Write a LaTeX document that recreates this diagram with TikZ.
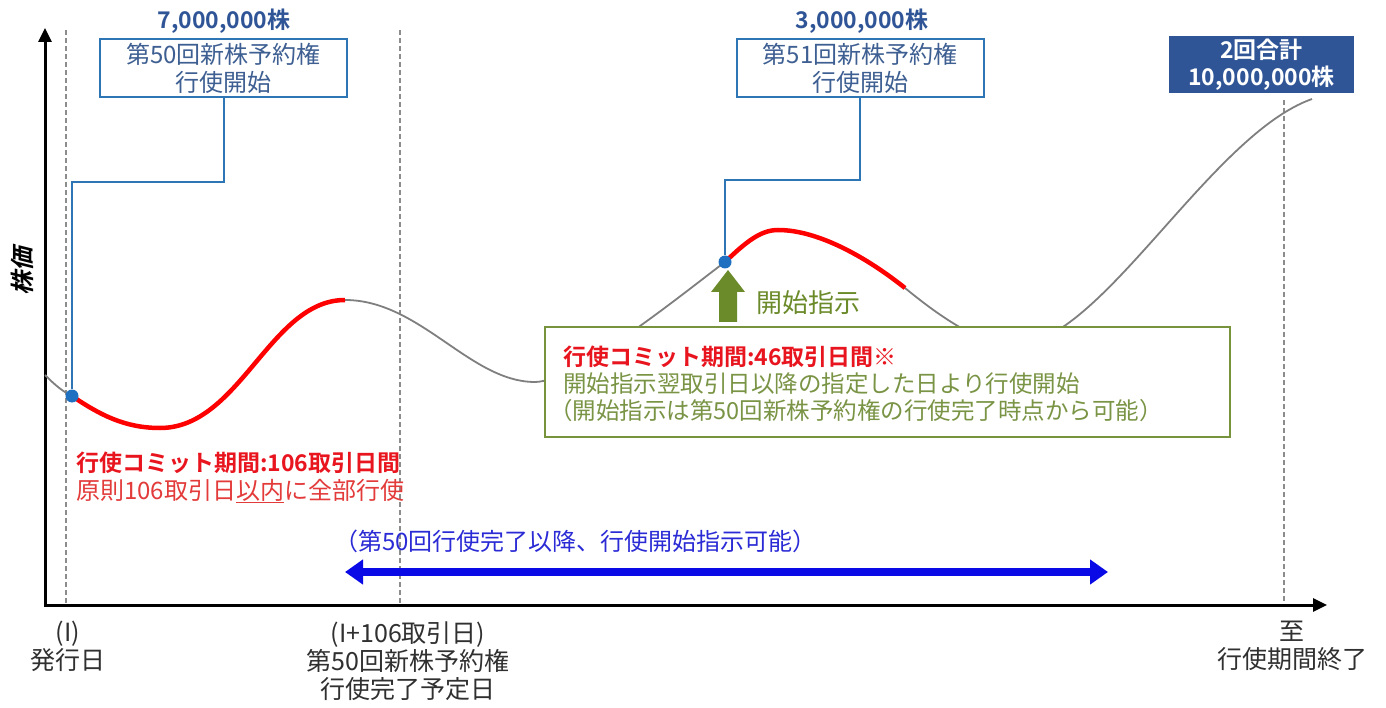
\documentclass[tikz,border=0pt]{standalone}
\usepackage{fontspec}
\setmainfont{Noto Sans CJK JP}[BoldFont={Noto Sans CJK JP Bold}]
\newfontfamily\slantfont{Noto Sans CJK JP Bold}[FakeSlant=0.25]
\usetikzlibrary{arrows.meta}
\definecolor{boxblue}{HTML}{2E75B6}
\definecolor{boxtext}{HTML}{3E5F92}
\definecolor{numblue}{HTML}{2F5597}
\definecolor{navy}{HTML}{2F5597}
\definecolor{dotblue}{HTML}{1F70C1}
\definecolor{curvegray}{HTML}{7F7F7F}
\definecolor{dashgray}{HTML}{8C8C8C}
\definecolor{redc}{HTML}{FF0000}
\definecolor{redt}{HTML}{E8141E}
\definecolor{redl}{HTML}{E33A3A}
\definecolor{gborder}{HTML}{77933C}
\definecolor{gtext}{HTML}{7A9445}
\definecolor{garrow}{HTML}{6B8A2A}
\definecolor{bluea}{HTML}{0A0AE6}
\definecolor{bluet}{HTML}{2B2BD6}
\definecolor{bottext}{HTML}{303030}
\begin{document}
\begin{tikzpicture}[x=1pt,y=-1pt,
  dashline/.style={draw=dashgray, line width=1.6pt, dash pattern=on 5pt off 3pt},
  axisline/.style={line width=3pt, draw=black, line join=miter},
  graycurve/.style={draw=curvegray, line width=1.8pt},
  redcurve/.style={draw=redc, line width=4.5pt, line cap=butt},
  conn/.style={draw=boxblue, line width=2pt},
  dotnode/.style={circle, fill=dotblue, minimum size=13pt, inner sep=0pt},
  callbox/.style={draw=boxblue, line width=2pt, fill=white, minimum width=247pt, minimum height=58pt, inner sep=0pt, align=center, text=boxtext, font=\fontsize{24}{28}\selectfont},
  numlabel/.style={inner sep=0pt, text=numblue, font=\bfseries\fontsize{23}{27}\selectfont},
  totalbox/.style={fill=navy, minimum width=185pt, minimum height=57pt, inner sep=0pt, align=center, text=white, font=\bfseries\fontsize{23}{27}\selectfont},
  gbox/.style={draw=gborder, line width=2pt, fill=white, minimum width=685pt, minimum height=110pt, inner sep=0pt},
  redbold/.style={inner sep=0pt, anchor=west, text=redt, font=\bfseries\fontsize{23}{27}\selectfont},
  redlight/.style={inner sep=0pt, anchor=west, text=redl, font=\fontsize{24}{28}\selectfont},
  greentext/.style={inner sep=0pt, anchor=west, text=gtext, font=\fontsize{23.5}{28}\selectfont},
  bluetext/.style={inner sep=0pt, anchor=west, text=bluet, font=\fontsize{24}{28}\selectfont},
  bluearrow/.style={draw=bluea, line width=8pt, {Triangle[length=18pt,width=24pt]}-{Triangle[length=18pt,width=24pt]}},
  botlabel/.style={inner sep=0pt, align=center, text=bottext, font=\fontsize{25}{28}\selectfont},
]
\useasboundingbox (0,0) rectangle (1386,708);

% dashed guide lines
\coordinate (d1t) at (66,30);   \coordinate (d1b) at (66,605);
\coordinate (d2t) at (400,30);  \coordinate (d2b) at (400,605);
\coordinate (d3t) at (1284,100); \coordinate (d3b) at (1284,605);
\draw[dashline] (d1t) -- (d1b);
\draw[dashline] (d2t) -- (d2b);
\draw[dashline] (d3t) -- (d3b);

% axes
\coordinate (ytop) at (45,28);
\coordinate (orig) at (45,605);
\coordinate (xend) at (1327,605);
\draw[axisline, {Triangle[length=14pt,width=13pt]}-{Triangle[length=14pt,width=13pt]}] (ytop) -- (orig) -- (xend);

% price curve (gray)
\draw[graycurve] (45,375) .. controls (55,385) and (62,391) .. (72,396)
  .. controls (100,415) and (125,428) .. (160,428)
  .. controls (240,428) and (270,300) .. (345,300)
  .. controls (420,300) and (470,382) .. (535,382)
  .. controls (575,382) and (690,288) .. (725,262)
  .. controls (745,243) and (760,230) .. (778,230)
  .. controls (820,230) and (870,260) .. (905,288)
  .. controls (950,325) and (985,345) .. (1015,345)
  .. controls (1100,345) and (1210,135) .. (1312,99);

% red commit periods
\draw[redcurve] (72,396) .. controls (100,415) and (125,428) .. (160,428)
  .. controls (240,428) and (270,300) .. (345,300);
\draw[redcurve] (725,262) .. controls (745,243) and (760,230) .. (778,230)
  .. controls (820,230) and (870,260) .. (905,288);

% callout boxes
\node[numlabel] (n7) at (224,21) {7,000,000株};
\node[callbox] (b50) at (223.5,68) {第50回新株予約権\\行使開始};
\node[numlabel] (n3) at (862,21) {3,000,000株};
\node[callbox] (b51) at (860,68) {第51回新株予約権\\行使開始};
\node[totalbox] (tot) at (1261.5,64.5) {2回合計\\10,000,000株};

% dots and connectors
\node[dotnode] (dot1) at (72,396) {};
\node[dotnode] (dot2) at (725,262) {};
\coordinate (k1) at (72,182);
\coordinate (k2) at (725,180);
\draw[conn] (b50.south) |- (k1) -- (dot1);
\draw[conn] (b51.south) |- (k2) -- (dot2);

% y label
\node[rotate=90, inner sep=0pt, font=\slantfont\fontsize{24}{24}\selectfont] (ylab) at (22,272) {株価};

% green box
\node[gbox] (gb) at (887.5,382) {};
\node[redbold] (g1) at (563,357) {行使コミット期間:46取引日間※};
\node[greentext] (g2) at (563,384) {開始指示翌取引日以降の指定した日より行使開始};
\node[greentext] (g3) at (549,411) {（開始指示は第50回新株予約権の行使完了時点から可能）};

% green arrow
\coordinate (ga) at (728,322);
\fill[garrow] (ga) ++(-9,0) -- ++(0,-30) -- ++(-8,0) -- (728,270) -- (745,292) -- (737,292) -- (737,322) -- cycle;
\node[inner sep=0pt, anchor=west, text=garrow, font=\fontsize{26}{30}\selectfont] (kaishi) at (756,303) {開始指示};

% red labels
\node[redbold] (r1) at (76,463) {行使コミット期間:106取引日間};
\node[redlight] (r2) at (76,491) {原則106取引日\underline{以内}に全部行使};

% blue arrow and label
\node[bluetext] (bt) at (334,541) {（第50回行使完了以降、行使開始指示可能）};
\coordinate (ba1) at (345,572);
\coordinate (ba2) at (1108,572);
\draw[bluearrow] (ba1) -- (ba2);

% bottom labels
\node[botlabel] (l1) at (68,646) {(I)\\発行日};
\node[botlabel] (l2) at (408,661) {(I+106取引日)\\第50回新株予約権\\行使完了予定日};
\node[botlabel] (l3) at (1292,646) {至\\行使期間終了};
\end{tikzpicture}
\end{document}
